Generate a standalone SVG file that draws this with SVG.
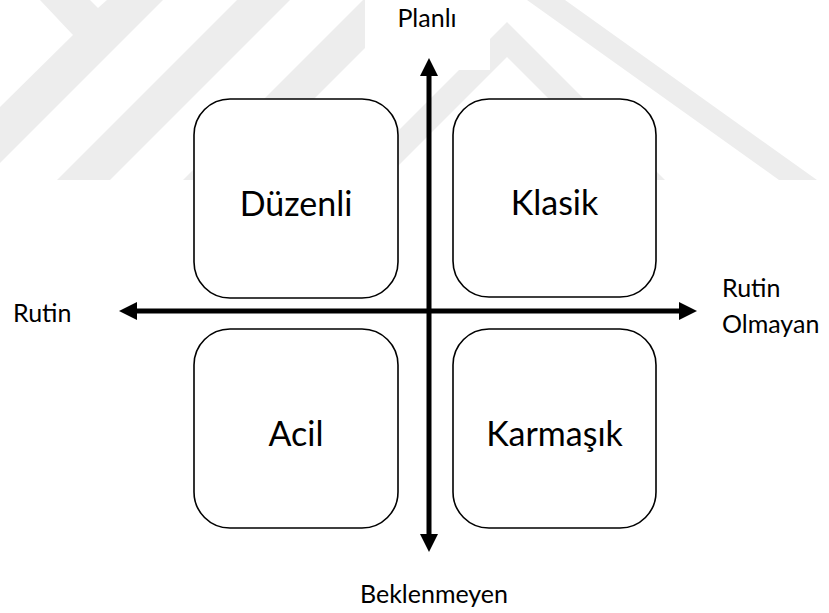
<svg xmlns="http://www.w3.org/2000/svg" width="829" height="613" viewBox="0 0 829 613">
  <defs>
    <style>
      .mark { fill: #ededed; }
      .box { fill: #ffffff; stroke: #000000; stroke-width: 1.6; }
      .big { font-family: Lato, "Open Sans", sans-serif; font-size: 34px; fill: #000000; text-anchor: middle; }
      .lbl { font-family: Lato, "Open Sans", sans-serif; font-size: 25px; fill: #000000; }
      .axis { stroke: #000000; stroke-width: 5; fill: none; }
    </style>
    <marker id="head" viewBox="0 0 18 18" refX="2" refY="9" markerWidth="18" markerHeight="18" markerUnits="userSpaceOnUse" orient="auto">
      <path d="M0,0 L18,9 L0,18 Z" fill="#000000"/>
    </marker>
    <clipPath id="markClip">
      <rect x="0" y="0" width="829" height="181"/>
    </clipPath>
  </defs>

  <rect x="0" y="0" width="829" height="613" fill="#ffffff"/>

  <!-- background watermark bands -->
  <g id="watermark" clip-path="url(#markClip)">
    <polygon class="mark" points="40,0 90,0 98,8 107,0 163,0 0,163 0,107 73,35"/>
    <polygon class="mark" points="237,0 290,0 110,180 57,180"/>
    <polygon class="mark" points="363,0 413,0 233,180 183,180"/>
    <polygon class="mark" points="349,180 507,22 665,180 630,180 507,57 384,180"/>
    <polygon class="mark" points="527,0 565,0 817,180 779,180"/>
  </g>

  <!-- text frame behind the top label -->
  <rect x="365" y="0" width="125" height="70" fill="#ffffff"/>

  <!-- quadrant boxes -->
  <g id="duzenli">
    <rect class="box" x="194" y="99" width="204" height="199" rx="36" ry="36"/>
    <text class="big" x="296" y="216">Düzenli</text>
  </g>
  <g id="klasik">
    <rect class="box" x="453" y="99" width="203" height="198" rx="36" ry="36"/>
    <text class="big" x="554.5" y="215">Klasik</text>
  </g>
  <g id="acil">
    <rect class="box" x="194" y="329" width="204" height="199" rx="36" ry="36"/>
    <text class="big" x="296" y="446">Acil</text>
  </g>
  <g id="karmasik">
    <rect class="box" x="453" y="329" width="203" height="199" rx="36" ry="36"/>
    <text class="big" x="554.5" y="446">Karmaşık</text>
  </g>

  <!-- axes -->
  <g id="connectors">
    <line class="axis" x1="429" y1="311" x2="429" y2="74" marker-end="url(#head)"/>
    <line class="axis" x1="429" y1="311" x2="429" y2="536" marker-end="url(#head)"/>
    <line class="axis" x1="429" y1="311" x2="135" y2="311" marker-end="url(#head)"/>
    <line class="axis" x1="429" y1="311" x2="681" y2="311" marker-end="url(#head)"/>
  </g>

  <!-- axis labels -->
  <g id="labels">
    <text class="lbl" x="427" y="27" text-anchor="middle">Planlı</text>
    <text class="lbl" x="13" y="322">Rutin</text>
    <text class="lbl" x="722" y="297">Rutin</text>
    <text class="lbl" x="722" y="333">Olmayan</text>
    <text class="lbl" x="434" y="603" text-anchor="middle">Beklenmeyen</text>
  </g>
</svg>
